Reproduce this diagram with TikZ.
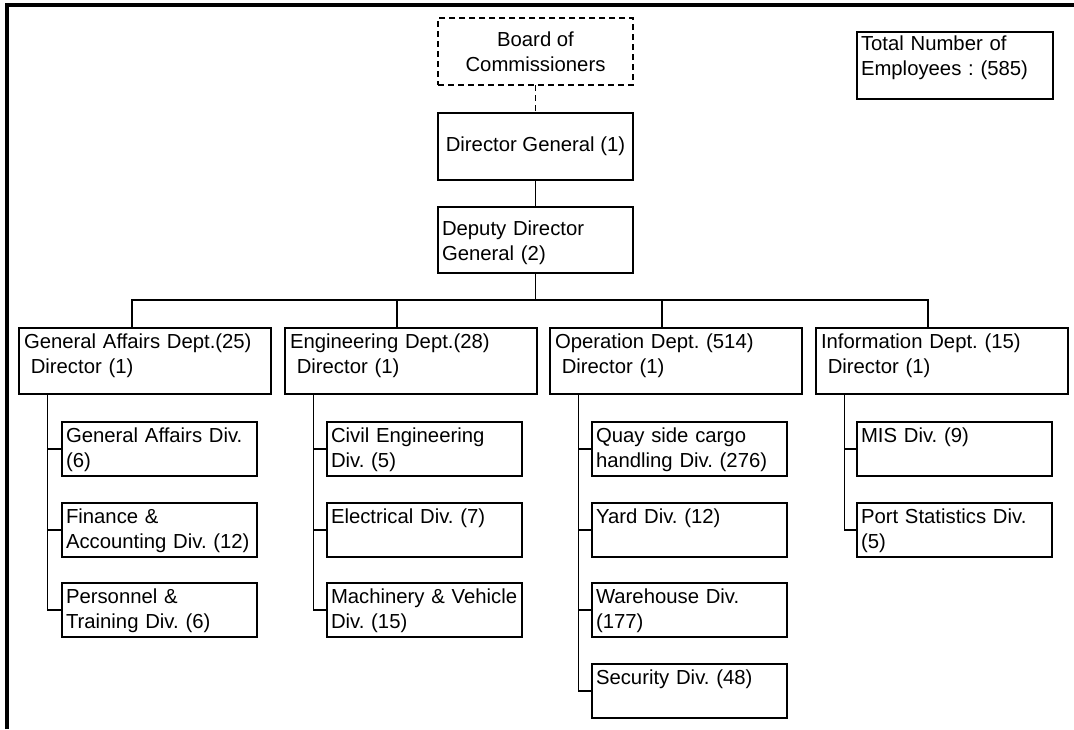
\documentclass[tikz,border=0pt]{standalone}
\usepackage{fontspec}
\setmainfont{Liberation Sans}
\frenchspacing

\tikzset{
  topbox/.style={draw, line width=1.5pt, anchor=north west, outer sep=0pt,
    inner sep=0pt, minimum width=195pt, minimum height=67pt, align=center},
  deptbox/.style={draw, line width=1.5pt, anchor=north west, outer sep=0pt,
    inner xsep=5pt, inner ysep=5pt, text width=242pt, align=left,
    text height=15.5pt, text depth=40.5pt},
  divbox/.style={draw, line width=1.5pt, anchor=north west, outer sep=0pt,
    inner xsep=4pt, inner ysep=5pt, text width=187pt, align=left,
    text height=15pt, text depth=29pt},
  notebox/.style={divbox, inner ysep=4pt, text width=188pt,
    text height=14.5pt, text depth=44.5pt},
}

\begin{document}
\begin{tikzpicture}[x=1pt,y=-1pt,line width=1.3pt,
    font=\fontsize{20.3pt}{25pt}\selectfont]
  \useasboundingbox (0,0) rectangle (1074,729);
  \draw[line width=3.2pt] (7,729) -- (7,5) -- (1074,5);

  % head of the chart
  \node[topbox,dash pattern=on 6pt off 4pt] (board) at (438,18) {Board of\\Commissioners};
  \node[topbox] (dg) at (438,113) {Director General (1)};
  \node[divbox,text height=23.5pt,text depth=32.5pt] (ddg) at (438,207) {Deputy Director\\General (2)};
  \node[notebox] (total) at (857,32) {Total Number of\\Employees : (585)};

  % departments
  \node[deptbox] (ga) at (19,328) {General Affairs Dept.(25)\\~Director (1)};
  \node[deptbox] (eng) at (285,328) {Engineering Dept.(28)\\~Director (1)};
  \node[deptbox] (op) at (550,328) {Operation Dept. (514)\\~Director (1)};
  \node[deptbox] (info) at (816,328) {Information Dept. (15)\\~Director (1)};

  % divisions
  \node[divbox] (ga1) at (62,422) {General Affairs Div.\\(6)};
  \node[divbox] (ga2) at (62,503) {Finance \&\\Accounting Div. (12)};
  \node[divbox] (ga3) at (62,583) {Personnel \&\\Training Div. (6)};
  \node[divbox] (eng1) at (327,422) {Civil Engineering\\Div. (5)};
  \node[divbox] (eng2) at (327,503) {Electrical Div. (7)};
  \node[divbox] (eng3) at (327,583) {\mbox{Machinery \& Vehicle}\\Div. (15)};
  \node[divbox] (op1) at (592,422) {Quay side cargo\\handling Div. (276)};
  \node[divbox] (op2) at (592,503) {Yard Div. (12)};
  \node[divbox] (op3) at (592,583) {Warehouse Div.\\(177)};
  \node[divbox] (op4) at (592,664) {Security Div. (48)};
  \node[divbox] (info1) at (857,422) {MIS Div. (9)};
  \node[divbox] (info2) at (857,503) {Port Statistics Div.\\(5)};

  % lines
  \draw[dash pattern=on 6pt off 4pt, line width=1.5pt] (board) -- (dg);
  \draw (dg) -- (ddg);
  \coordinate (bus) at (535.5,300);
  \draw (ddg.south) -- (bus);
  \draw ([xshift=-13pt]ga.north) |- (bus) -| ([xshift=-14pt]info.north);
  \draw ([xshift=-14pt]eng.north) -- ([xshift=-14pt]eng.north |- bus);
  \draw ([xshift=-14pt]op.north) -- ([xshift=-14pt]op.north |- bus);

  \foreach \d/\last in {ga/ga3, eng/eng3, op/op4, info/info2}
    \draw ([xshift=28.5pt]\d.south west) |- (\last.west);
  \foreach \d/\s in {ga/ga1, ga/ga2, eng/eng1, eng/eng2, op/op1, op/op2, op/op3, info/info1}
    \draw (\s.west) -- ([xshift=28.5pt]\d.south west |- \s.west);
\end{tikzpicture}
\end{document}
